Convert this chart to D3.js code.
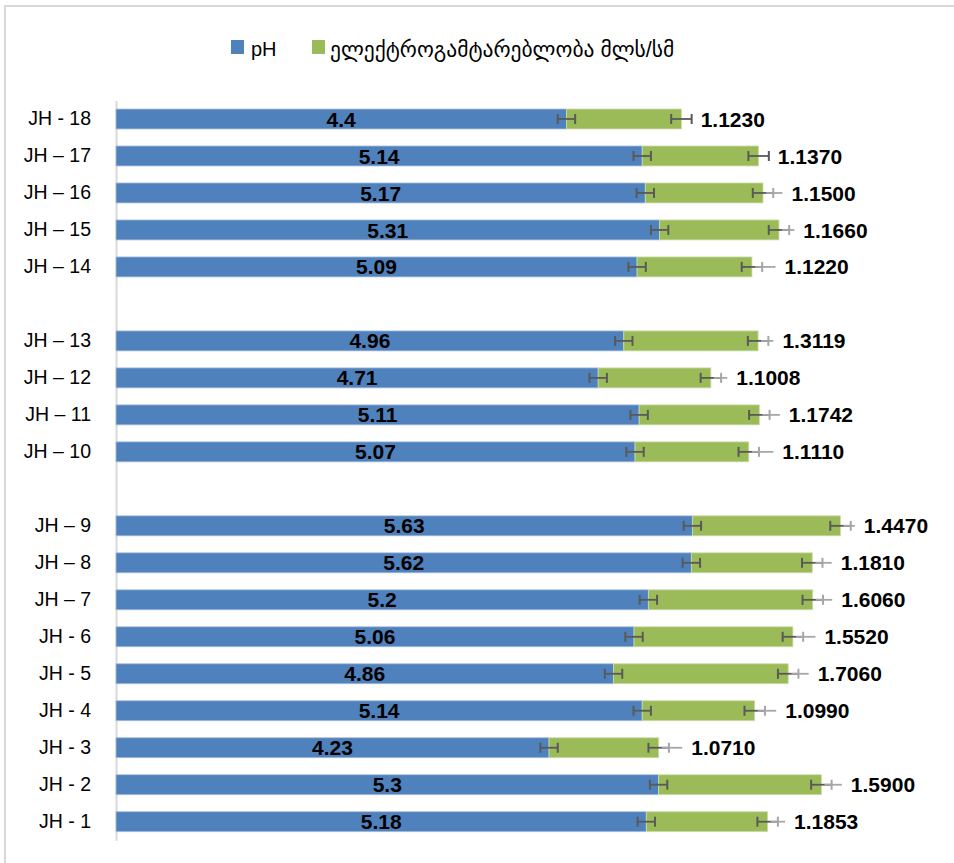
<!DOCTYPE html>
<html><head><meta charset="utf-8">
<script src="https://cdn.jsdelivr.net/npm/d3@7"></script>
<style>body{margin:0;background:#fff}</style>
</head><body><svg id="c" width="954" height="863"></svg>
<script>
const categories = ["JH - 18","JH – 17","JH – 16","JH – 15","JH – 14","","JH – 13","JH – 12","JH – 11","JH – 10","","JH – 9","JH – 8","JH – 7","JH - 6","JH - 5","JH - 4","JH - 3","JH - 2","JH - 1"];
const phValues   = [4.4, 5.14, 5.17, 5.31, 5.09, null, 4.96, 4.71, 5.11, 5.07, null, 5.63, 5.62, 5.2, 5.06, 4.86, 5.14, 4.23, 5.3, 5.18];
const condValues = [1.1230, 1.1370, 1.1500, 1.1660, 1.1220, null, 1.3119, 1.1008, 1.1742, 1.1110, null, 1.4470, 1.1810, 1.6060, 1.5520, 1.7060, 1.0990, 1.0710, 1.5900, 1.1853];
const phErrors   = [0.085, 0.085, 0.085, 0.085, 0.085, null, 0.085, 0.085, 0.085, 0.085, null, 0.085, 0.085, 0.085, 0.085, 0.085, 0.085, 0.085, 0.085, 0.085];
const condErrors = [0.1, 0.1, 0.1, 0.1, 0.1, null, 0.1, 0.1, 0.1, 0.1, null, 0.1, 0.1, 0.1, 0.1, 0.1, 0.1, 0.1, 0.1, 0.1];
const extraErrors = [0, 0, 0.19, 0.15, 0.23, null, 0.15, 0.16, 0.20, 0.24, null, 0.14, 0.19, 0.19, 0.22, 0.20, 0.21, 0.23, 0.20, 0.17];
const seriesNames = ["pH", "ელექტროგამტარებლობა მლს/სმ"];
const seriesColors = ["#4f81bd", "#9bbb59"];

const svg = d3.select("#c");
const font = "'Liberation Sans', 'DejaVu Sans', sans-serif";

// outer border (extends beyond the visible area on right/bottom)
svg.append("rect").attr("x", 5).attr("y", 6).attr("width", 1000).attr("height", 1000)
  .attr("fill", "none").attr("stroke", "#d9d9d9").attr("stroke-width", 2);

const idx = categories.map((d, i) => i);
const x = d3.scaleLinear().domain([0, 8]).range([116, 935]);
const y = d3.scaleBand().domain(idx).range([100.5, 840.2]).paddingInner(0.46).paddingOuter(0.23);

// axis
const ax = svg.append("g").attr("transform", `translate(${x(0)},0)`)
  .call(d3.axisLeft(y).tickSize(0).tickPadding(25).tickFormat(i => categories[i]));
ax.select(".domain").attr("stroke", "#d9d9d9").attr("stroke-width", 2);
ax.selectAll("text").attr("font-family", font).attr("font-size", 19.5).attr("fill", "#000");

const rows = idx.filter(i => phValues[i] != null).map(i => ({
  i, ph: phValues[i], cond: condValues[i], pe: phErrors[i], ce: condErrors[i], ex: extraErrors[i]
}));

const bh = y.bandwidth();
const g = svg.append("g");
// pH bars
g.selectAll("rect.ph").data(rows).join("rect").attr("class", "ph")
  .attr("x", x(0)).attr("y", d => y(d.i)).attr("width", d => x(d.ph) - x(0)).attr("height", bh)
  .attr("fill", seriesColors[0]).attr("stroke", "#a9bfdc").attr("stroke-width", 0.8);
// conductivity bars
g.selectAll("rect.cd").data(rows).join("rect").attr("class", "cd")
  .attr("x", d => x(d.ph)).attr("y", d => y(d.i)).attr("width", d => x(d.ph + d.cond) - x(d.ph)).attr("height", bh)
  .attr("fill", seriesColors[1]).attr("stroke", "#cddcae").attr("stroke-width", 0.8);

// error bars
const dark = "#595959", light = "#a6a6a6";
function errBar(sel, cx, e, color, capR) {
  sel.each(function(d) {
    const gg = d3.select(this);
    const cy = y(d.i) + bh / 2;
    const c = cx(d), er = e(d);
    gg.append("line").attr("x1", x(c - er)).attr("x2", x(c + er)).attr("y1", cy).attr("y2", cy)
      .attr("stroke", color).attr("stroke-width", 1.8);
    gg.append("line").attr("x1", x(c - er)).attr("x2", x(c - er)).attr("y1", cy - 5).attr("y2", cy + 5)
      .attr("stroke", color).attr("stroke-width", 2);
    gg.append("line").attr("x1", x(c + er)).attr("x2", x(c + er)).attr("y1", cy - 5).attr("y2", cy + 5)
      .attr("stroke", capR(d) || color).attr("stroke-width", 2);
  });
}
const eg = svg.append("g");
errBar(eg.selectAll("g.pe").data(rows).join("g").attr("class", "pe"), d => d.ph, d => d.pe, dark, () => null);
errBar(eg.selectAll("g.ce").data(rows).join("g").attr("class", "ce"), d => d.ph + d.cond, d => d.ce, dark, d => d.ex > 0 ? light : null);
// lighter overlapping error segment
eg.selectAll("line.ex").data(rows.filter(d => d.ex > 0)).join("line").attr("class", "ex")
  .attr("x1", d => x(d.ph + d.cond + 0.03)).attr("x2", d => x(d.ph + d.cond + d.ex))
  .attr("y1", d => y(d.i) + bh / 2).attr("y2", d => y(d.i) + bh / 2)
  .attr("stroke", light).attr("stroke-width", 1.8);

// labels
const lg = svg.append("g").attr("font-family", font).attr("font-weight", "bold").attr("font-size", 21).attr("fill", "#000");
lg.selectAll("text.ph").data(rows).join("text").attr("class", "ph")
  .attr("x", d => (x(0) + x(d.ph)) / 2).attr("y", d => y(d.i) + bh / 2).attr("dy", "0.36em")
  .attr("text-anchor", "middle").text(d => String(d.ph));
lg.selectAll("text.cd").data(rows).join("text").attr("class", "cd")
  .attr("x", d => x(d.ph + d.cond + Math.max(d.ce, d.ex)) + 9).attr("y", d => y(d.i) + bh / 2).attr("dy", "0.36em")
  .text(d => d3.format(".4f")(d.cond));

// legend
const leg = svg.append("g").attr("font-family", font).attr("font-size", 20);
leg.append("rect").attr("x", 231).attr("y", 40).attr("width", 13).attr("height", 14).attr("fill", seriesColors[0]);
leg.append("text").attr("x", 251).attr("y", 56).text(seriesNames[0]);
leg.append("rect").attr("x", 312).attr("y", 40).attr("width", 13).attr("height", 14).attr("fill", seriesColors[1]);
leg.append("text").attr("x", 330).attr("y", 57).attr("font-size", 21.5).text(seriesNames[1]);
</script>
</body></html>
